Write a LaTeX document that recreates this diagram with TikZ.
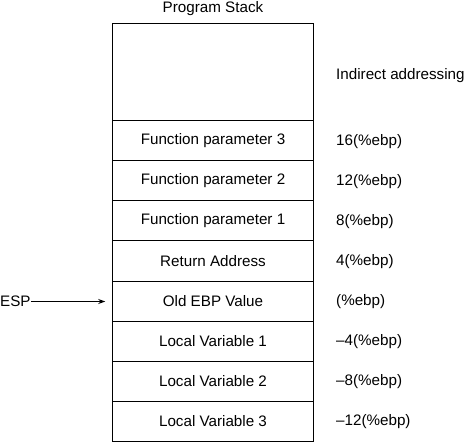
\documentclass[tikz,border=0pt]{standalone}
\usepackage{fontspec}
\setmainfont{Liberation Sans}
\usetikzlibrary{arrows.meta}
\begin{document}
\begin{tikzpicture}[x=1pt,y=-1pt,
  every node/.style={font=\fontsize{15.2}{18}\selectfont, inner sep=0pt},
  cell/.style={draw, line width=1pt, minimum width=201.5pt, minimum height=40pt},
  lbl/.style={anchor=west}]
\useasboundingbox (0,0) rectangle (465,443);
\node (title) at (213,8.5) {Program Stack};
\node[cell, minimum height=97pt] (top) at (213,72.5) {};
\node[cell] (r1) at (213,141) {Function parameter 3};
\node[cell] (r2) at (213,181) {Function parameter 2};
\node[cell] (r3) at (213,221) {Function parameter 1};
\node[cell] (r4) at (213,261) {Return Address};
\node[cell] (r5) at (213,301) {Old EBP Value};
\node[cell] (r6) at (213,341) {Local Variable 1};
\node[cell] (r7) at (213,381) {Local Variable 2};
\node[cell] (r8) at (213,421) {Local Variable 3};
\node[lbl] (l0) at (336,75.5) {Indirect addressing};
\node[lbl] (l1) at (336,141.5) {16(\%ebp)};
\node[lbl] (l2) at (336,181.5) {12(\%ebp)};
\node[lbl] (l3) at (336,221.5) {8(\%ebp)};
\node[lbl] (l4) at (336,261.5) {4(\%ebp)};
\node[lbl] (l5) at (336,301.5) {(\%ebp)};
\node[lbl] (l6) at (336,341.5) {–4(\%ebp)};
\node[lbl] (l7) at (336,381.5) {–8(\%ebp)};
\node[lbl] (l8) at (336,421.5) {–12(\%ebp)};
\node[anchor=west] (esp) at (0,301.5) {ESP};
\draw[line width=0.8pt, -{Stealth[length=7pt,width=5pt]}, shorten >=6.5pt] (esp.east) -- (esp.east -| r5.west);
\end{tikzpicture}
\end{document}
